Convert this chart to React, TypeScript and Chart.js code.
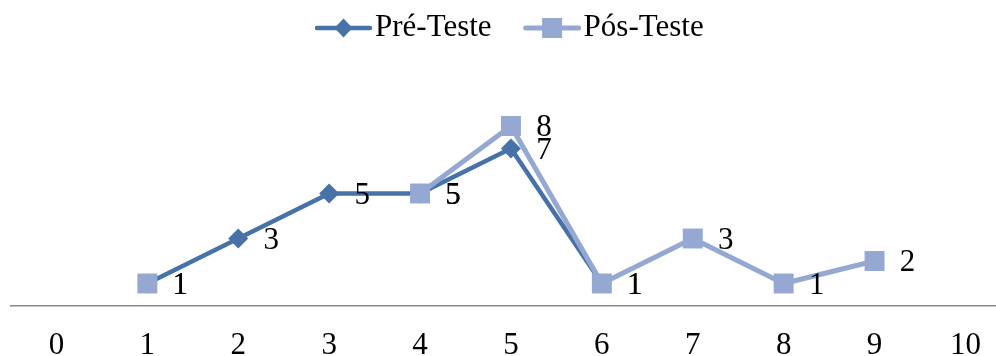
import React, { useEffect, useRef } from "react";
import { Chart, registerables } from "chart.js";

Chart.register(...registerables);

const categories = [0, 1, 2, 3, 4, 5, 6, 7, 8, 9, 10];
const tickLabels = ["0", "1", "2", "3", "4", "5", "6", "7", "8", "9", "10"];
const seriesNames = ["Pré-Teste", "Pós-Teste"];
const preTeste: (number | null)[] = [null, 1, 3, 5, 5, 7, 1, null, null, null, null];
const posTeste: (number | null)[] = [null, 1, null, null, 5, 8, 1, 3, 1, 2, null];

const DARK = "#4672A8";
const LIGHT = "#94A8D2";
const FONT = '"Liberation Serif", "Times New Roman", serif';
const FONT_SIZE = 31;

const valueLabelPlugin = {
  id: "valueLabels",
  afterDatasetsDraw(chart: any) {
    const ctx = chart.ctx;
    ctx.save();
    ctx.font = `${FONT_SIZE}px ${FONT}`;
    ctx.fillStyle = "#000";
    ctx.textAlign = "center";
    ctx.textBaseline = "middle";
    chart.data.datasets.forEach((ds: any, di: number) => {
      const meta = chart.getDatasetMeta(di);
      meta.data.forEach((el: any, i: number) => {
        const v = ds.data[i].y;
        if (v === null || v === undefined) return;
        ctx.fillText(String(v), el.x + 33, el.y + 2);
      });
    });
    ctx.restore();
  },
};

const legendPlugin = {
  id: "lineLegend",
  afterDraw(chart: any) {
    const ctx = chart.ctx;
    ctx.save();
    ctx.font = `${FONT_SIZE}px ${FONT}`;
    ctx.textBaseline = "middle";
    ctx.textAlign = "left";
    const y = 28;
    let x = 315;
    const iconW = 57;
    const styles = [
      { color: DARK, shape: "diamond", lw: 4.5 },
      { color: LIGHT, shape: "square", lw: 5 },
    ];
    seriesNames.forEach((name, i) => {
      const st = styles[i];
      ctx.strokeStyle = st.color;
      ctx.fillStyle = st.color;
      ctx.lineWidth = st.lw;
      ctx.lineCap = "round";
      ctx.beginPath();
      ctx.moveTo(x + 2, y);
      ctx.lineTo(x + iconW - 2, y);
      ctx.stroke();
      const cx = x + iconW / 2;
      ctx.beginPath();
      if (st.shape === "diamond") {
        ctx.moveTo(cx, y - 9.5);
        ctx.lineTo(cx + 9, y);
        ctx.lineTo(cx, y + 9.5);
        ctx.lineTo(cx - 9, y);
        ctx.closePath();
      } else {
        ctx.rect(cx - 10, y - 10, 20, 20);
      }
      ctx.fill();
      ctx.fillStyle = "#000";
      const tx = x + iconW + 3;
      ctx.fillText(name, tx, y);
      x = tx + ctx.measureText(name).width + 32;
    });
    ctx.restore();
  },
};

export default function App() {
  const canvasRef = useRef<HTMLCanvasElement | null>(null);

  useEffect(() => {
    const canvas = canvasRef.current;
    if (!canvas) return;
    const chart = new Chart(canvas, {
      type: "line",
      data: {
        datasets: [
          {
            label: seriesNames[0],
            data: categories.map((c, i) => ({ x: c, y: preTeste[i] })),
            borderColor: DARK,
            backgroundColor: DARK,
            borderWidth: 4.5,
            pointStyle: "rectRot",
            pointRadius: 10,
            pointBorderWidth: 0,
            pointBackgroundColor: DARK,
            spanGaps: false,
            order: 2,
          },
          {
            label: seriesNames[1],
            data: categories.map((c, i) => ({ x: c, y: posTeste[i] })),
            borderColor: LIGHT,
            backgroundColor: LIGHT,
            borderWidth: 5,
            pointStyle: "rect",
            pointRadius: 14.1,
            pointBorderWidth: 0,
            pointBackgroundColor: LIGHT,
            spanGaps: false,
            order: 1,
          },
        ],
      } as any,
      options: {
        animation: false,
        responsive: false,
        maintainAspectRatio: false,
        layout: { autoPadding: false, padding: { top: 81, left: 11, right: 0, bottom: 0 } },
        plugins: {
          legend: { display: false },
          tooltip: { enabled: false },
        },
        elements: { line: { tension: 0, borderCapStyle: "round", borderJoinStyle: "round" } },
        scales: {
          x: {
            type: "linear",
            min: -0.5,
            max: 10.336,
            afterBuildTicks: (scale: any) => {
              scale.ticks = categories.map((v) => ({ value: v }));
            },
            afterFit: (scale: any) => {
              scale.height = 50;
              scale.paddingLeft = 0;
              scale.paddingRight = 0;
            },
            grid: { display: false, drawTicks: false },
            border: { display: true, color: "#898989", width: 1.5 },
            ticks: {
              padding: 21,
              maxRotation: 0,
              autoSkip: false,
              color: "#000",
              font: { family: FONT, size: FONT_SIZE },
              callback: (value: any) => {
                const idx = categories.indexOf(Number(value));
                return idx >= 0 ? tickLabels[idx] : "";
              },
            },
          },
          y: {
            display: false,
            min: 0,
            max: 10,
          },
        },
      } as any,
      plugins: [valueLabelPlugin, legendPlugin],
    });
    return () => chart.destroy();
  }, []);

  return (
    <div style={{ position: "absolute", left: 0, top: 0, width: 996, height: 356, background: "#fff" }}>
      <canvas ref={canvasRef} width={996} height={356} style={{ display: "block" }} />
    </div>
  );
}
